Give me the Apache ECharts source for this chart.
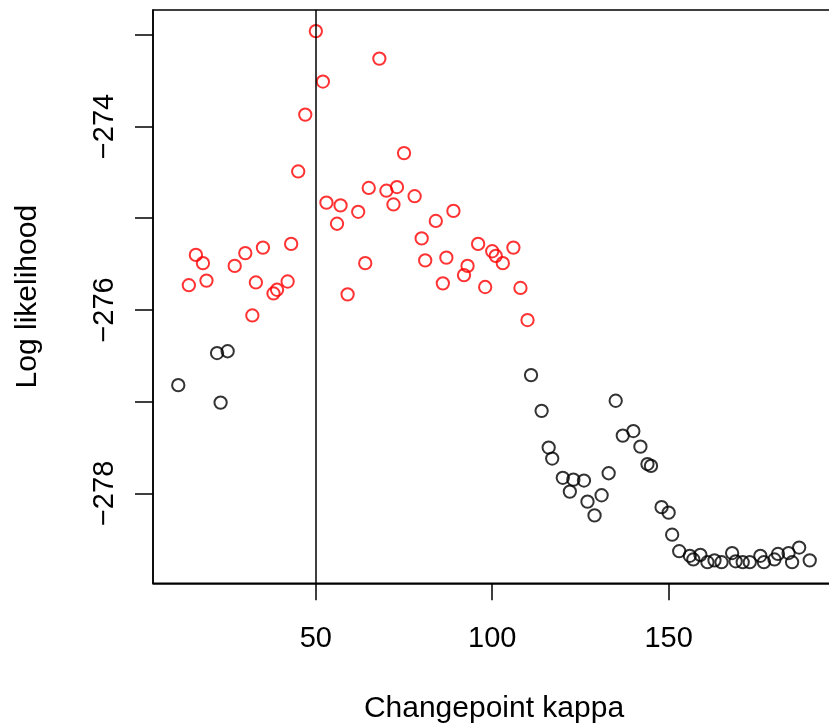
<!DOCTYPE html>
<html>
<head>
<meta charset="utf-8">
<script src="https://cdn.jsdelivr.net/npm/echarts@6/dist/echarts.min.js"></script>
<style>html,body{margin:0;padding:0;background:#fff}#c{width:829px;height:728px}</style>
</head>
<body>
<div id="c"></div>
<script>
// Red points (selected region)
const redKappa = [14,16,18,19,27,30,32,33,35,38,39,42,43,45,47,50,52,53,56,57,59,62,64,65,68,70,72,73,75,78,80,81,84,86,87,89,92,93,96,98,100,101,103,106,108,110];
const redLL = [-275.73,-275.40,-275.49,-275.68,-275.52,-275.38,-276.06,-275.70,-275.32,-275.82,-275.78,-275.69,-275.28,-274.49,-273.87,-272.96,-273.51,-274.83,-275.06,-274.86,-275.83,-274.93,-275.49,-274.67,-273.26,-274.70,-274.85,-274.66,-274.29,-274.76,-275.22,-275.46,-275.03,-275.71,-275.43,-274.92,-275.62,-275.52,-275.28,-275.75,-275.36,-275.41,-275.49,-275.32,-275.76,-276.11];
// Black points
const blackKappa = [11,22,23,25,111,114,116,117,120,122,123,126,127,129,131,133,135,137,140,142,144,145,148,150,151,153,156,157,159,161,163,165,168,169,171,173,176,177,180,181,184,185,187,190];
const blackLL = [-276.82,-276.47,-277.01,-276.45,-276.71,-277.10,-277.50,-277.62,-277.83,-277.98,-277.85,-277.86,-278.09,-278.24,-278.02,-277.78,-276.99,-277.37,-277.32,-277.49,-277.68,-277.70,-278.15,-278.21,-278.45,-278.63,-278.68,-278.72,-278.67,-278.75,-278.73,-278.75,-278.65,-278.74,-278.75,-278.75,-278.68,-278.75,-278.72,-278.66,-278.65,-278.75,-278.59,-278.73];
// Ticks and labels
const xTicks = [50,100,150];
const yTicks = [-273,-274,-275,-276,-277,-278];
const yLabels = [-274,-276,-278];
const vLineKappa = 50;
const xTitle = 'Changepoint kappa';
const yTitle = 'Log likelihood';

const FONT = '"Liberation Sans", Arial, Helvetica, sans-serif';
const zip = (a, b) => a.map((v, i) => [v, b[i]]);
const fmt = v => String(v).replace('-', '\u2212');

const chart = echarts.init(document.getElementById('c'), null, {renderer: 'canvas'});
chart.setOption({
  animation: false,
  backgroundColor: '#fff',
  grid: {left: 153, top: 10, width: 682, height: 573.3, containLabel: false, outerBoundsMode: 'none',
         show: true, borderColor: '#000', borderWidth: 1.5, backgroundColor: 'transparent'},
  xAxis: {
    type: 'value', min: 3.84, max: 197.16,
    name: xTitle, nameLocation: 'middle', nameGap: 110,
    nameTextStyle: {fontFamily: FONT, fontSize: 30, color: '#000'},
    axisLine: {show: true, onZero: false, lineStyle: {color: '#000', width: 1.5}},
    axisTick: {show: true, inside: false, length: 17, customValues: xTicks, lineStyle: {color: '#000', width: 1.5}},
    axisLabel: {show: true, margin: 41, customValues: xTicks, fontFamily: FONT, fontSize: 29, color: '#000', formatter: fmt},
    splitLine: {show: false}
  },
  yAxis: {
    type: 'value', min: -278.98, max: -272.73,
    name: yTitle, nameLocation: 'middle', nameGap: 110, nameRotate: 90,
    nameTextStyle: {fontFamily: FONT, fontSize: 30, color: '#000'},
    axisLine: {show: true, onZero: false, lineStyle: {color: '#000', width: 1.5}},
    axisTick: {show: true, inside: false, length: 18, customValues: yTicks, lineStyle: {color: '#000', width: 1.5}},
    axisLabel: {show: true, margin: 34, rotate: 90, customValues: yLabels, fontFamily: FONT, fontSize: 29, color: '#000', formatter: fmt},
    splitLine: {show: false}
  },
  series: [
    {
      type: 'scatter', data: zip(blackKappa, blackLL), symbol: 'circle', symbolSize: 12.3,
      itemStyle: {color: 'rgba(0,0,0,0)', borderColor: '#000', borderWidth: 2},
      silent: true
    },
    {
      type: 'scatter', data: zip(redKappa, redLL), symbol: 'circle', symbolSize: 12.3,
      itemStyle: {color: 'rgba(0,0,0,0)', borderColor: '#ff0000', borderWidth: 2},
      silent: true,
      markLine: {
        silent: true, symbol: ['none', 'none'], label: {show: false},
        lineStyle: {color: '#000', width: 1.5, type: 'solid'},
        data: [{xAxis: vLineKappa}]
      }
    }
  ]
});
</script>
</body>
</html>
